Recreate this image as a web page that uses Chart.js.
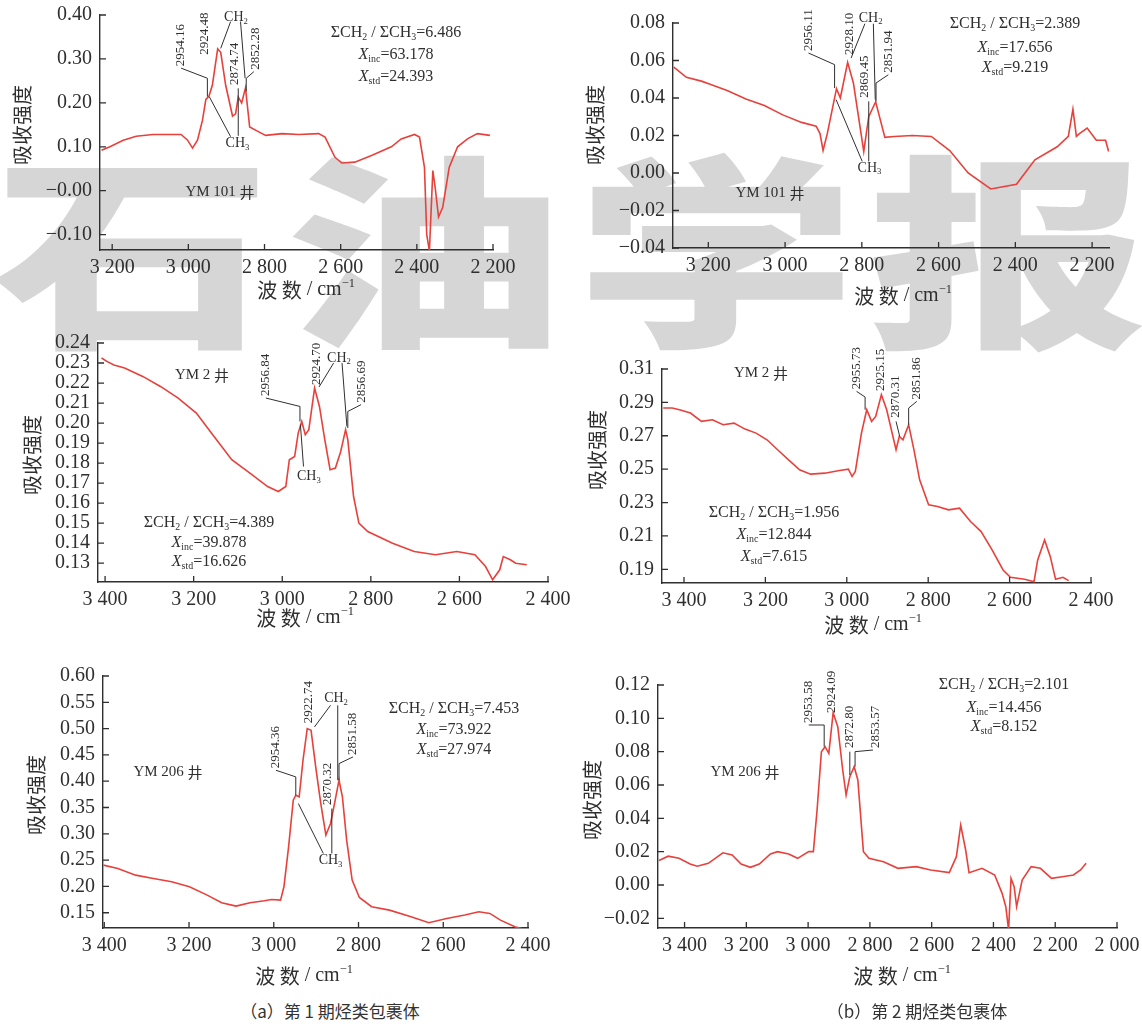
<!DOCTYPE html>
<html>
<head>
<meta charset="utf-8">
<script src="https://cdn.jsdelivr.net/npm/chart.js@4.4.0/dist/chart.umd.min.js"></script>
<style>
  body { margin: 0; background: #fff; width: 1142px; height: 1024px; position: relative; overflow: hidden; }
  #mark { position: absolute; left: -8px; top: 138px; font-family: "Noto Sans CJK SC"; font-weight: 900;
          font-size: 280px; line-height: 1; letter-spacing: 12px; color: #d6d6d6; white-space: nowrap;
          transform: scaleY(0.74); transform-origin: top left; z-index: 0; }
  canvas { position: absolute; z-index: 1; }
  .cap { position: absolute; width: 300px; text-align: center; font-family: "Noto Sans CJK SC"; font-size: 17px; color: #333; z-index: 2; }
</style>
</head>
<body>
<div id="mark">石油学报</div>
<div class="cap" style="left:180px; top:998px;">（a）第 1 期烃类包裹体</div>
<div class="cap" style="left:767px; top:998px;">（b）第 2 期烃类包裹体</div>
<script>
const RED = "#e8403b";
const INK = "#2f2f2f";
const SERIF = '"Liberation Serif", "Noto Sans CJK SC", serif';
const CJK = '"Noto Sans CJK SC", sans-serif';

// (a) stage 1, YM 101
const p1Wave = [3228, 3206, 3171, 3137, 3093, 3058, 3019, 3002, 2989, 2976, 2963, 2954, 2946, 2937, 2923, 2915, 2902, 2884, 2876, 2869, 2860, 2850, 2839, 2815, 2797, 2754, 2710, 2658, 2641, 2615, 2597, 2563, 2519, 2467, 2441, 2406, 2393, 2380, 2374, 2367, 2358, 2352, 2343, 2332, 2315, 2293, 2267, 2241, 2208];
const p1Abs = [0.092, 0.100, 0.115, 0.124, 0.128, 0.128, 0.128, 0.115, 0.097, 0.115, 0.160, 0.208, 0.215, 0.240, 0.323, 0.315, 0.240, 0.170, 0.175, 0.213, 0.200, 0.234, 0.145, 0.134, 0.126, 0.130, 0.128, 0.130, 0.122, 0.076, 0.063, 0.065, 0.080, 0.100, 0.118, 0.128, 0.122, 0.053, -0.100, -0.137, 0.046, 0.008, -0.060, -0.038, 0.053, 0.100, 0.118, 0.130, 0.126];
const p1XTicks = [3200, 3000, 2800, 2600, 2400, 2200];
const p1XLabels = ["3 200", "3 000", "2 800", "2 600", "2 400", "2 200"];
const p1YTicks = [0.40, 0.30, 0.20, 0.10, 0.00, -0.10];
const p1YLabels = ["0.40", "0.30", "0.20", "0.10", "−0.00", "−0.10"];
const p1Peaks = ["2954.16", "2924.48", "2874.74", "2852.28"];
const p1Stats = ["6.486", "63.178", "24.393"];

// (b) stage 2, YM 101
const p2Wave = [3290, 3257, 3218, 3199, 3151, 3102, 3054, 3006, 2957, 2919, 2909, 2901, 2890, 2866, 2856, 2837, 2822, 2795, 2782, 2764, 2740, 2716, 2668, 2619, 2571, 2523, 2464, 2397, 2349, 2291, 2262, 2250, 2241, 2233, 2213, 2189, 2165, 2157];
const p2Abs = [0.0565, 0.051, 0.049, 0.0476, 0.044, 0.0395, 0.036, 0.031, 0.027, 0.025, 0.021, 0.012, 0.021, 0.045, 0.040, 0.059, 0.048, 0.0115, 0.030, 0.038, 0.019, 0.0195, 0.020, 0.0195, 0.012, 0.000, -0.0085, -0.006, 0.007, 0.014, 0.0195, 0.034, 0.0195, 0.021, 0.024, 0.0175, 0.0175, 0.0115];
const p2XTicks = [3200, 3000, 2800, 2600, 2400, 2200];
const p2XLabels = ["3 200", "3 000", "2 800", "2 600", "2 400", "2 200"];
const p2YTicks = [0.08, 0.06, 0.04, 0.02, 0.00, -0.02, -0.04];
const p2YLabels = ["0.08", "0.06", "0.04", "0.02", "0.00", "−0.02", "−0.04"];
const p2Peaks = ["2956.11", "2928.10", "2869.45", "2851.94"];
const p2Stats = ["2.389", "17.656", "9.219"];

// (a) stage 1, YM 2
const p3Wave = [3408, 3396, 3380, 3356, 3315, 3275, 3235, 3194, 3154, 3114, 3073, 3033, 3009, 2992, 2984, 2972, 2964, 2956, 2948, 2940, 2927, 2916, 2904, 2892, 2880, 2868, 2857, 2852, 2839, 2827, 2807, 2751, 2702, 2654, 2606, 2565, 2541, 2525, 2509, 2501, 2485, 2473, 2448];
const p3Abs = [0.2325, 0.2308, 0.229, 0.2275, 0.2233, 0.2183, 0.2125, 0.205, 0.1933, 0.1817, 0.175, 0.1683, 0.1658, 0.1683, 0.1817, 0.1833, 0.195, 0.2008, 0.1942, 0.1967, 0.2175, 0.2083, 0.1917, 0.1767, 0.1775, 0.1858, 0.1967, 0.1917, 0.1633, 0.15, 0.1458, 0.14, 0.1358, 0.1342, 0.1358, 0.1342, 0.1283, 0.1217, 0.1267, 0.1333, 0.1317, 0.13, 0.1292];
const p3XTicks = [3400, 3200, 3000, 2800, 2600, 2400];
const p3XLabels = ["3 400", "3 200", "3 000", "2 800", "2 600", "2 400"];
const p3YTicks = [0.24, 0.23, 0.22, 0.21, 0.20, 0.19, 0.18, 0.17, 0.16, 0.15, 0.14, 0.13];
const p3YLabels = ["0.24", "0.23", "0.22", "0.21", "0.20", "0.19", "0.18", "0.17", "0.16", "0.15", "0.14", "0.13"];
const p3Peaks = ["2956.84", "2924.70", "2856.69"];
const p3Stats = ["4.389", "39.878", "16.626"];

// (b) stage 2, YM 2
const p4Wave = [3451, 3429, 3411, 3384, 3357, 3330, 3304, 3277, 3250, 3223, 3196, 3170, 3143, 3116, 3089, 3054, 3018, 2996, 2987, 2979, 2964, 2951, 2939, 2929, 2915, 2902, 2879, 2871, 2862, 2848, 2835, 2821, 2799, 2777, 2750, 2723, 2696, 2670, 2643, 2616, 2598, 2563, 2540, 2531, 2514, 2500, 2487, 2469, 2455];
const p4Abs = [0.2866, 0.2866, 0.2856, 0.2836, 0.2786, 0.2796, 0.2766, 0.2776, 0.274, 0.2716, 0.2676, 0.2616, 0.2556, 0.2496, 0.247, 0.2476, 0.2492, 0.25, 0.2456, 0.2486, 0.2716, 0.2856, 0.2786, 0.2816, 0.2946, 0.2856, 0.2616, 0.2696, 0.2676, 0.2766, 0.2616, 0.2436, 0.2286, 0.2276, 0.2256, 0.2266, 0.2186, 0.2126, 0.2016, 0.1896, 0.1852, 0.184, 0.1826, 0.1956, 0.2076, 0.1976, 0.184, 0.1852, 0.1832];
const p4XTicks = [3400, 3200, 3000, 2800, 2600, 2400];
const p4XLabels = ["3 400", "3 200", "3 000", "2 800", "2 600", "2 400"];
const p4YTicks = [0.31, 0.29, 0.27, 0.25, 0.23, 0.21, 0.19];
const p4YLabels = ["0.31", "0.29", "0.27", "0.25", "0.23", "0.21", "0.19"];
const p4Peaks = ["2955.73", "2925.15", "2870.31", "2851.86"];
const p4Stats = ["1.956", "12.844", "7.615"];

// (a) stage 1, YM 206
const p5Wave = [3402, 3368, 3326, 3284, 3241, 3199, 3157, 3123, 3089, 3056, 3022, 3005, 2984, 2976, 2965, 2954, 2948, 2940, 2931, 2921, 2912, 2900, 2889, 2877, 2866, 2855, 2846, 2838, 2828, 2815, 2798, 2769, 2727, 2676, 2634, 2592, 2549, 2516, 2490, 2465, 2431, 2402];
const p5Abs = [0.2405, 0.2342, 0.2215, 0.2152, 0.2089, 0.1994, 0.1835, 0.169, 0.1627, 0.169, 0.1728, 0.1753, 0.174, 0.1994, 0.2753, 0.364, 0.3734, 0.3703, 0.4399, 0.500, 0.4968, 0.4209, 0.3576, 0.2975, 0.3196, 0.3639, 0.4019, 0.3703, 0.288, 0.212, 0.1791, 0.1614, 0.155, 0.1424, 0.131, 0.1392, 0.1456, 0.1519, 0.1487, 0.136, 0.1234, 0.117];
const p5XTicks = [3400, 3200, 3000, 2800, 2600, 2400];
const p5XLabels = ["3 400", "3 200", "3 000", "2 800", "2 600", "2 400"];
const p5YTicks = [0.60, 0.55, 0.50, 0.45, 0.40, 0.35, 0.30, 0.25, 0.20, 0.15];
const p5YLabels = ["0.60", "0.55", "0.50", "0.45", "0.40", "0.35", "0.30", "0.25", "0.20", "0.15"];
const p5Peaks = ["2954.36", "2922.74", "2870.32", "2851.58"];
const p5Stats = ["7.453", "73.922", "27.974"];

// (b) stage 2, YM 206
const p6Wave = [3483, 3453, 3418, 3382, 3359, 3323, 3276, 3246, 3217, 3187, 3158, 3122, 3099, 3063, 3034, 2998, 2983, 2971, 2957, 2945, 2933, 2919, 2904, 2888, 2877, 2865, 2851, 2839, 2821, 2803, 2756, 2709, 2650, 2603, 2543, 2520, 2506, 2490, 2479, 2437, 2396, 2372, 2360, 2351, 2343, 2333, 2325, 2307, 2278, 2248, 2212, 2177, 2141, 2118, 2100];
const p6Abs = [0.0147, 0.0173, 0.016, 0.0126, 0.0113, 0.013, 0.0193, 0.018, 0.0126, 0.0106, 0.0126, 0.0186, 0.020, 0.0186, 0.016, 0.020, 0.020, 0.045, 0.080, 0.083, 0.079, 0.1034, 0.095, 0.069, 0.054, 0.065, 0.071, 0.063, 0.020, 0.016, 0.014, 0.010, 0.011, 0.009, 0.0074, 0.017, 0.036, 0.021, 0.0074, 0.010, 0.006, -0.005, -0.013, -0.027, 0.004, -0.001, -0.013, 0.003, 0.011, 0.010, 0.004, 0.005, 0.006, 0.009, 0.013];
const p6XTicks = [3400, 3200, 3000, 2800, 2600, 2400, 2200, 2000];
const p6XLabels = ["3 400", "3 200", "3 000", "2 800", "2 600", "2 400", "2 200", "2 000"];
const p6YTicks = [0.12, 0.10, 0.08, 0.06, 0.04, 0.02, 0.00, -0.02];
const p6YLabels = ["0.12", "0.10", "0.08", "0.06", "0.04", "0.02", "0.00", "−0.02"];
const p6Peaks = ["2953.58", "2924.09", "2872.80", "2853.57"];
const p6Stats = ["2.101", "14.456", "8.152"];

// draw a line of mixed text: n normal, i italic, s subscript, p superscript, c chinese
function rich(ctx, parts, cx, cy, size) {
  const fonts = parts.map(([t, k]) => {
    const sz = (k === "s" || k === "p") ? size * 0.62 : size;
    const fam = k === "c" ? CJK : SERIF;
    const f = (k === "i" ? "italic " : "") + sz + "px " + fam;
    ctx.font = f;
    return [f, ctx.measureText(t).width];
  });
  const w = fonts.reduce((s, f) => s + f[1], 0);
  let xx = cx - w / 2;
  parts.forEach(([t, k], i) => {
    ctx.font = fonts[i][0];
    const dy = k === "s" ? size * 0.3 : (k === "p" ? -size * 0.32 : 0);
    ctx.fillText(t, xx, cy + dy);
    xx += fonts[i][1];
  });
}

const decor = {
  id: "decor",
  afterDraw(chart, args, o) {
    const { ctx, chartArea: a, scales } = chart;
    const sx = v => scales.x.getPixelForValue(v);
    const sy = v => scales.y.getPixelForValue(v);
    const ox = o.box.x, oy = o.box.y;
    ctx.save();
    ctx.strokeStyle = INK;
    ctx.fillStyle = INK;

    // inward tick marks
    ctx.lineWidth = 1.3;
    ctx.beginPath();
    o.xTicks.forEach(v => { ctx.moveTo(sx(v), a.bottom); ctx.lineTo(sx(v), a.bottom - 6); });
    o.yTicks.forEach(v => { ctx.moveTo(a.left, sy(v)); ctx.lineTo(a.left + 6, sy(v)); });
    ctx.stroke();

    ctx.textBaseline = "middle";
    ctx.textAlign = "left";

    // axis titles
    ctx.save();
    ctx.translate(o.yTitle[0] - ox, o.yTitle[1] - oy);
    ctx.rotate(-Math.PI / 2);
    ctx.font = "20px " + CJK;
    ctx.textAlign = "center";
    ctx.fillText("吸收强度", 0, 0);
    ctx.restore();
    rich(ctx, [["波 数", "c"], [" / cm", "n"], ["−1", "p"]], o.xTitle[0] - ox, o.xTitle[1] - oy, 20);

    // well name
    rich(ctx, [["YM " + o.well + " ", "n"], ["井", "c"]], o.wellPos[0] - ox, o.wellPos[1] - oy, 15);

    // ratio and index text
    const st = o.stats;
    rich(ctx, [["ΣCH", "n"], ["2", "s"], [" / ΣCH", "n"], ["3", "s"], ["=" + st[0], "n"]], o.statPos[0] - ox, o.statPos[1] - oy, 16);
    rich(ctx, [["X", "i"], ["inc", "s"], ["=" + st[1], "n"]], o.statPos[0] - ox, o.statPos[2] - oy, 16);
    rich(ctx, [["X", "i"], ["std", "s"], ["=" + st[2], "n"]], o.statPos[0] - ox, o.statPos[3] - oy, 16);

    // peak callouts
    ctx.lineWidth = 1;
    (o.calls || []).forEach(c => {
      if (c.path) {
        ctx.beginPath();
        c.path.forEach((p, i) => i ? ctx.lineTo(sx(p[0]), sy(p[1])) : ctx.moveTo(sx(p[0]), sy(p[1])));
        ctx.stroke();
      }
      if (c.text) {
        ctx.save();
        ctx.translate(sx(c.at[0]), sy(c.at[1]));
        ctx.rotate(-Math.PI / 2);
        ctx.font = "13px " + SERIF;
        ctx.fillText(c.text, 2, 0);
        ctx.restore();
      }
      if (c.group) {
        rich(ctx, [["CH", "n"], [c.group, "s"]], sx(c.at[0]), sy(c.at[1]), 14);
      }
    });
    ctx.restore();
  }
};

function panel(box, area, wave, abs, xr, yr, xt, xl, yt, yl, deco) {
  const cv = document.createElement("canvas");
  cv.width = box.w; cv.height = box.h;
  cv.style.left = box.x + "px"; cv.style.top = box.y + "px";
  document.body.appendChild(cv);
  const tickFont = { family: SERIF, size: 20 };
  new Chart(cv.getContext("2d"), {
    type: "line",
    data: {
      datasets: [{
        data: wave.map((w, i) => ({ x: w, y: abs[i] })),
        borderColor: RED, borderWidth: 1.6, pointRadius: 0, tension: 0, fill: false
      }]
    },
    options: {
      responsive: false, animation: false,
      layout: { padding: { left: 0, top: area.t - box.y, right: box.x + box.w - area.r, bottom: 0 } },
      plugins: {
        legend: { display: false }, tooltip: { enabled: false },
        decor: Object.assign({ box: box, xTicks: xt, yTicks: yt }, deco)
      },
      scales: {
        x: {
          type: "linear", reverse: true, min: xr[0], max: xr[1],
          grid: { display: false, drawTicks: false },
          border: { display: true, color: INK, width: 1.4 },
          afterBuildTicks: s => { s.ticks = xt.map(v => ({ value: v })); },
          afterFit: s => { s.height = box.y + box.h - area.b; s.paddingLeft = 0; s.paddingRight = 0; },
          ticks: { autoSkip: false, maxRotation: 0, padding: 6, color: INK, font: tickFont, callback: (v, i) => xl[i] }
        },
        y: {
          type: "linear", min: yr[0], max: yr[1],
          grid: { display: false, drawTicks: false },
          border: { display: true, color: INK, width: 1.4 },
          afterBuildTicks: s => { s.ticks = yt.map(v => ({ value: v })); },
          afterFit: s => { s.width = area.l - box.x; s.paddingTop = 0; s.paddingBottom = 0; },
          ticks: { autoSkip: false, padding: 8, color: INK, font: tickFont, callback: (v, i) => yl[i] }
        }
      }
    },
    plugins: [decor]
  });
}

// (a) YM 101
panel({ x: 0, y: 0, w: 580, h: 320 }, { l: 100, r: 493, t: 15, b: 250 },
  p1Wave, p1Abs, [2200, 3232], [-0.135, 0.40], p1XTicks, p1XLabels, p1YTicks, p1YLabels, {
    yTitle: [22, 125], xTitle: [306, 290], well: "101", wellPos: [220, 192],
    stats: p1Stats, statPos: [396, 33, 55, 77],
    calls: [
      { text: p1Peaks[0], at: [3020, 0.279], path: [[3019, 0.279], [2950, 0.256], [2950, 0.214]] },
      { text: p1Peaks[1], at: [2958, 0.305] },
      { text: p1Peaks[2], at: [2878, 0.236], path: [[2869, 0.233], [2869, 0.125]] },
      { text: p1Peaks[3], at: [2824, 0.271], path: [[2828, 0.271], [2848, 0.256], [2848, 0.226]] },
      { group: "2", at: [2875, 0.395], path: [[2889, 0.385], [2915, 0.324]] },
      { path: [[2863, 0.385], [2851, 0.256]] },
      { group: "3", at: [2871, 0.108], path: [[2889, 0.123], [2945, 0.214]] }
    ]
  });

// (b) YM 101
panel({ x: 560, y: 0, w: 582, h: 320 }, { l: 673, r: 1109, t: 23, b: 248 },
  p2Wave, p2Abs, [2156, 3292], [-0.04, 0.08], p2XTicks, p2XLabels, p2YTicks, p2YLabels, {
    yTitle: [595, 125], xTitle: [903, 296], well: "101", wellPos: [770, 193],
    stats: p2Stats, statPos: [1015, 24, 48, 68],
    calls: [
      { text: p2Peaks[0], at: [2939, 0.064], path: [[2939, 0.064], [2871, 0.0578], [2871, 0.0453]] },
      { text: p2Peaks[1], at: [2833, 0.0619] },
      { text: p2Peaks[2], at: [2794, 0.0391], path: [[2782, 0.0382], [2782, 0.0062]] },
      { text: p2Peaks[3], at: [2731, 0.0524], path: [[2731, 0.0524], [2763, 0.048], [2763, 0.0382]] },
      { group: "2", at: [2777, 0.0827], path: [[2792, 0.0796], [2828, 0.0613]] },
      { path: [[2770, 0.0796], [2765, 0.0391]] },
      { group: "3", at: [2780, 0.0027], path: [[2799, 0.0062], [2867, 0.0391]] }
    ]
  });

// (a) YM 2
panel({ x: 0, y: 330, w: 590, h: 310 }, { l: 98, r: 548, t: 343, b: 582 },
  p3Wave, p3Abs, [2400, 3416], [0.1206, 0.24], p3XTicks, p3XLabels, p3YTicks, p3YLabels, {
    yTitle: [32, 455], xTitle: [305, 618], well: "2", wellPos: [202, 375],
    stats: p3Stats, statPos: [209, 523, 543, 562],
    calls: [
      { text: p3Peaks[0], at: [3037, 0.2125], path: [[3037, 0.2125], [2960, 0.2083], [2960, 0.2008]] },
      { text: p3Peaks[1], at: [2922, 0.218] },
      { text: p3Peaks[2], at: [2822, 0.2092], path: [[2822, 0.2092], [2852, 0.2058], [2852, 0.1975]] },
      { group: "2", at: [2872, 0.2325], path: [[2884, 0.230], [2917, 0.218]] },
      { path: [[2865, 0.230], [2854, 0.1983]] },
      { group: "3", at: [2940, 0.1733], path: [[2952, 0.1783], [2959, 0.1992]] }
    ]
  });

// (b) YM 2
panel({ x: 560, y: 330, w: 582, h: 310 }, { l: 662, r: 1091, t: 369, b: 583 },
  p4Wave, p4Abs, [2400, 3454], [0.1818, 0.31], p4XTicks, p4XLabels, p4YTicks, p4YLabels, {
    yTitle: [597, 450], xTitle: [873, 625], well: "2", wellPos: [761, 373],
    stats: p4Stats, statPos: [774, 513, 535, 557],
    calls: [
      { text: p4Peaks[0], at: [2976, 0.2966], path: [[2976, 0.2966], [2955, 0.2932], [2955, 0.2856]] },
      { text: p4Peaks[1], at: [2917, 0.2956] },
      { text: p4Peaks[2], at: [2879, 0.2796], path: [[2879, 0.2786], [2870, 0.2696]] },
      { text: p4Peaks[3], at: [2828, 0.2906], path: [[2828, 0.2906], [2848, 0.2866], [2848, 0.2766]] }
    ]
  });

// (a) YM 206
panel({ x: 0, y: 650, w: 580, h: 345 }, { l: 103, r: 528, t: 676, b: 928 },
  p5Wave, p5Abs, [2400, 3403], [0.121, 0.60], p5XTicks, p5XLabels, p5YTicks, p5YLabels, {
    yTitle: [36, 795], xTitle: [304, 976], well: "206", wellPos: [168, 772],
    stats: p5Stats, statPos: [454, 709, 730, 750],
    calls: [
      { text: p5Peaks[0], at: [2995, 0.4209], path: [[2995, 0.4209], [2948, 0.4082], [2948, 0.3734]] },
      { text: p5Peaks[1], at: [2919, 0.5063] },
      { text: p5Peaks[2], at: [2872, 0.3512], path: [[2863, 0.348], [2863, 0.2626]] },
      { text: p5Peaks[3], at: [2813, 0.4462], path: [[2813, 0.4462], [2846, 0.4335], [2846, 0.4019]] },
      { group: "2", at: [2853, 0.557], path: [[2866, 0.5443], [2904, 0.5031]] },
      { path: [[2849, 0.5443], [2849, 0.4019]] },
      { group: "3", at: [2866, 0.25], path: [[2883, 0.2626], [2942, 0.3576]] }
    ]
  });

// (b) YM 206
panel({ x: 560, y: 650, w: 582, h: 345 }, { l: 658, r: 1117, t: 685, b: 928 },
  p6Wave, p6Abs, [2000, 3486], [-0.0258, 0.12], p6XTicks, p6XLabels, p6YTicks, p6YLabels, {
    yTitle: [592, 800], xTitle: [902, 976], well: "206", wellPos: [745, 772],
    stats: p6Stats, statPos: [1004, 685, 708, 727],
    calls: [
      { text: p6Peaks[0], at: [2998, 0.096], path: [[2998, 0.096], [2948, 0.096], [2948, 0.083]] },
      { text: p6Peaks[1], at: [2924, 0.102] },
      { text: p6Peaks[2], at: [2865, 0.081], path: [[2865, 0.080], [2865, 0.066]] },
      { text: p6Peaks[3], at: [2780, 0.081], path: [[2790, 0.081], [2848, 0.080], [2848, 0.071]] }
    ]
  });
</script>
</body>
</html>
